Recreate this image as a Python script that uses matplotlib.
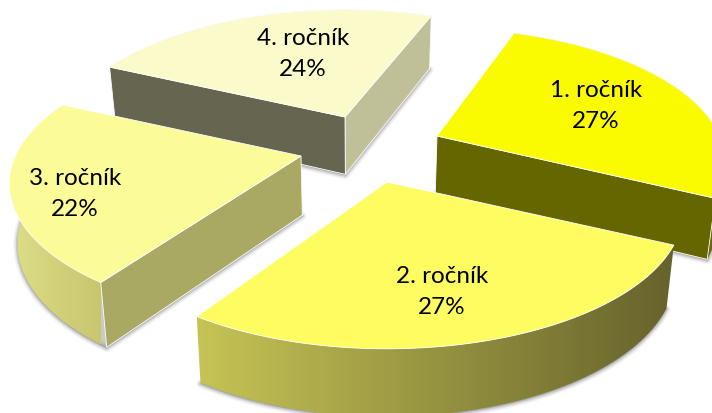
import numpy as np
import matplotlib
matplotlib.use("Agg")
import matplotlib.pyplot as plt
from matplotlib.patches import Polygon
from matplotlib.colors import to_rgb

categories = ["1. ročník", "2. ročník", "3. ročník", "4. ročník"]
values = [27, 27, 22, 24]

# layout / style (not data)
START = 70.5
RX, RY, K = 290.0, 132.6, 0.205
APEX = {0: (437, 137), 1: (387, 183), 2: (301, 157), 3: (345, 118)}
SCALE = {0: 0.975, 1: 1.0, 2: 0.985, 3: 0.97}
ROT = {0: 0.6, 1: 1.0, 2: -2.0, 3: -1.8}
LABEL = {0: (596, 106), 1: (442, 292), 2: (75, 194), 3: (303, 54)}
TOP = ["#FAFA00", "#FDFD62", "#FBFB98", "#FAFACB"]
SIDE = [("#767015", "#6A6510"), ("#C6C455", "#66622C"), ("#DEDE88", "#C8C66F"), ("#C0C09A", "#C0C09A")]
CUT_A = {2: "#A9A964", 3: "#666650"}
CUT_B = {0: "#666600", 3: "#BFBF98"}

fig = plt.figure(figsize=(7.12, 4.14), dpi=100, facecolor="white")
ax = fig.add_axes([0, 0, 1, 1])
ax.set_xlim(0, 712)
ax.set_ylim(414, 0)
ax.axis("off")


def project(i, deg):
    t = np.radians(deg)
    u, v = np.cos(t) * SCALE[i], np.sin(t) * SCALE[i]
    d = 1 + K * v
    return np.column_stack([APEX[i][0] + RX * u / d, APEX[i][1] - RY * v / d])


def lower(p):
    p = np.atleast_2d(p).astype(float)
    return np.column_stack([360 + (p[:, 0] - 360) * 0.977, p[:, 1] + 52 + 0.045 * p[:, 1]])


def gradient(poly, c0, c1, x0, x1):
    patch = Polygon(poly, closed=True, fc="none", ec="none")
    ax.add_patch(patch)
    a, b = np.array(to_rgb(c0)), np.array(to_rgb(c1))
    w = np.linspace(0, 1, 256)[None, :, None]
    im = ax.imshow(a + (b - a) * w, extent=[x0, x1, 414, 0], aspect="auto", zorder=1)
    im.set_clip_path(patch)
    ax.set_xlim(0, 712)
    ax.set_ylim(414, 0)


def face(poly, color):
    ax.add_patch(Polygon(poly, closed=True, fc=color, ec="white", lw=0.6, joinstyle="round"))


edges = START - np.cumsum([0] + values) * 3.6
for i in [3, 2, 0, 1]:
    a0, a1 = edges[i] + ROT[i], edges[i + 1] + ROT[i]
    arc = project(i, np.linspace(a0, a1, 120))
    apex = np.array([APEX[i]], float)
    low_arc, low_apex = lower(arc), lower(apex)
    base = np.vstack([low_apex, low_arc])
    for lw, alpha in [(6, 0.06), (4, 0.10), (2.2, 0.18)]:
        ax.add_patch(Polygon(base + [0, 1], closed=True, fc="#555555", ec="#555555",
                             lw=lw, alpha=alpha, joinstyle="round"))
    wall = np.vstack([arc, low_arc[::-1]])
    gradient(wall, SIDE[i][0], SIDE[i][1], arc[:, 0].min(), arc[:, 0].max())
    if i in CUT_B:
        face(np.vstack([apex, arc[-1:], low_arc[-1:], low_apex]), CUT_B[i])
    if i in CUT_A:
        face(np.vstack([apex, arc[:1], low_arc[:1], low_apex]), CUT_A[i])
    face(np.vstack([apex, arc]), TOP[i])
    ax.text(*LABEL[i], f"{categories[i]}\n{values[i]}%", ha="center", va="center",
            fontsize=17.5, family="Lato", color="black", linespacing=1.55, zorder=5)

fig.savefig("out.png", dpi=100)
